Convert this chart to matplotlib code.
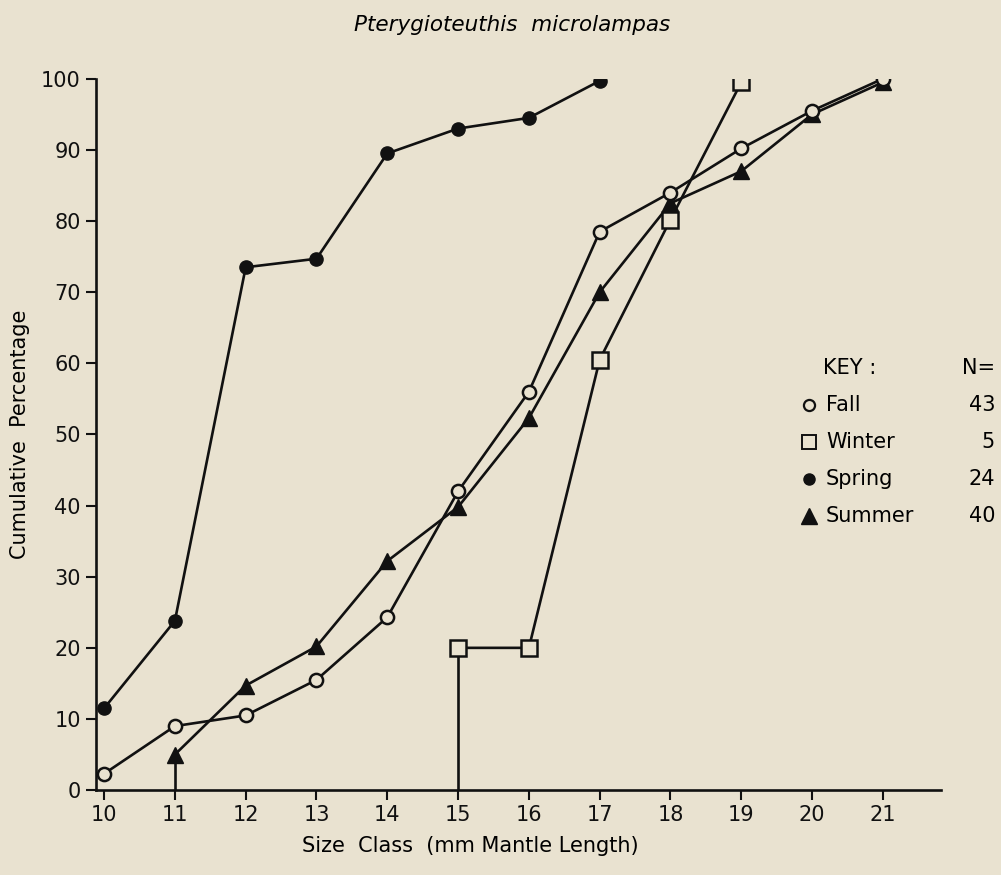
import matplotlib
matplotlib.use('Agg')
import matplotlib.pyplot as plt

# size classes (mm mantle length) and cumulative percentages per season
fall_x = [10, 11, 12, 13, 14, 15, 16, 17, 18, 19, 20, 21]
fall_y = [2.3, 9.0, 10.5, 15.5, 24.3, 42.0, 56.0, 78.5, 84.0, 90.2, 95.5, 100.0]

winter_x = [15, 16, 17, 18, 19]
winter_y = [20.0, 20.0, 60.5, 80.2, 99.5]

spring_x = [10, 11, 12, 13, 14, 15, 16, 17]
spring_y = [11.5, 23.8, 73.5, 74.7, 89.5, 93.0, 94.5, 99.7]

summer_x = [11, 12, 13, 14, 15, 16, 17, 18, 19, 20, 21]
summer_y = [5.0, 14.7, 20.2, 32.2, 39.8, 52.3, 70.0, 82.5, 87.0, 95.0, 99.5]

seasons = ['Fall', 'Winter', 'Spring', 'Summer']
counts = ['43', '5', '24', '40']

xticks = list(range(10, 22))
yticks = list(range(0, 101, 10))

bg = '#e9e2d0'
ink = '#111111'

plt.rcParams['font.family'] = 'DejaVu Sans'

fig = plt.figure(figsize=(10.01, 8.75), dpi=100, facecolor=bg)
ax = fig.add_axes([0.096, 0.097, 0.844, 0.813], facecolor=bg)

lw = 1.9
# drop lines from the axis to the first point
ax.plot([winter_x[0], winter_x[0]], [0, winter_y[0]], color=ink, lw=lw, zorder=2)
ax.plot([summer_x[0], summer_x[0]], [0, summer_y[0]], color=ink, lw=lw, zorder=2)

ax.plot(spring_x, spring_y, color=ink, lw=lw, marker='o', ms=9.5,
        mfc=ink, mec=ink, zorder=3)
ax.plot(summer_x, summer_y, color=ink, lw=lw, marker='^', ms=12,
        mfc=ink, mec=ink, zorder=3)
ax.plot(fall_x, fall_y, color=ink, lw=lw, marker='o', ms=9.5,
        mfc=bg, mec=ink, mew=1.8, zorder=4)
ax.plot(winter_x, winter_y, color=ink, lw=lw, marker='s', ms=11.5,
        mfc=bg, mec=ink, mew=1.8, zorder=4)

ax.set_xlim(9.887, 21.82)
ax.set_ylim(0, 100)
ax.set_xticks(xticks)
ax.set_yticks(yticks)
ax.tick_params(direction='out', length=7, width=1.5, colors=ink,
               labelsize=15, pad=4)
for s in ['top', 'right']:
    ax.spines[s].set_visible(False)
for s in ['left', 'bottom']:
    ax.spines[s].set_linewidth(1.9)
    ax.spines[s].set_color(ink)
    ax.spines[s].set_zorder(1)

ax.set_xlabel('Size  Class  (mm Mantle Length)', fontsize=15, labelpad=12)
ax.xaxis.set_label_coords(0.443, -0.065)
ax.set_ylabel('Cumulative  Percentage', fontsize=15, labelpad=8)
fig.text(0.512, 1 - 25 / 875, 'Pterygioteuthis  microlampas', fontsize=15.5,
         style='italic', ha='center', va='center')

# key block
def fx(px):
    return px / 1001

def fy(py):
    return 1 - py / 875

fig.text(fx(823), fy(368), 'KEY :', fontsize=15, va='center')
fig.text(fx(995), fy(368), 'N=', fontsize=15, va='center', ha='right')
key_markers = [dict(marker='o', ms=8, mfc=bg, mec=ink, mew=1.6),
               dict(marker='s', ms=10, mfc=bg, mec=ink, mew=1.4),
               dict(marker='o', ms=8, mfc=ink, mec=ink),
               dict(marker='^', ms=11, mfc=ink, mec=ink)]
row_y = [405, 442, 479, 516]
kax = fig.add_axes([0, 0, 1, 1], facecolor='none')
kax.set_xlim(0, 1)
kax.set_ylim(0, 1)
kax.axis('off')
for name, n, mk, ry in zip(seasons, counts, key_markers, row_y):
    kax.plot([fx(809)], [fy(ry)], ls='none', **mk)
    fig.text(fx(826), fy(ry), name, fontsize=15, va='center')
    fig.text(fx(995), fy(ry), n, fontsize=15, va='center', ha='right')

fig.savefig('out.png', dpi=100, facecolor=bg)
